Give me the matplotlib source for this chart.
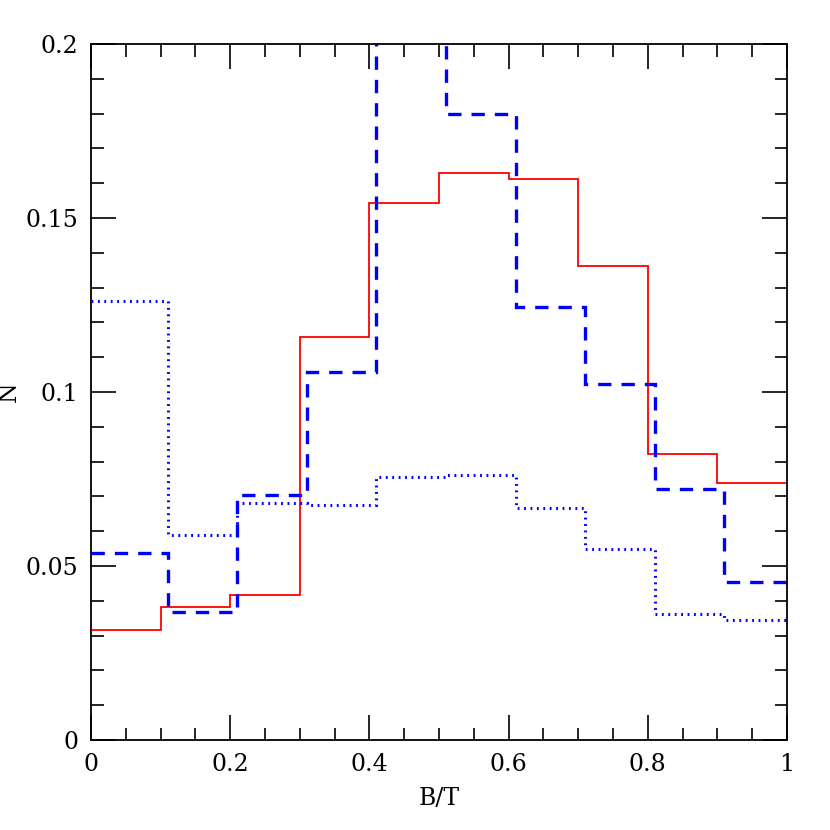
import numpy as np
import matplotlib
matplotlib.use('Agg')
import matplotlib.pyplot as plt
from matplotlib.ticker import MultipleLocator

# bin edges
red_edges = [0.0, 0.1, 0.2, 0.3, 0.4, 0.5, 0.6, 0.7, 0.8, 0.9, 1.0]
blue_edges = [0.0, 0.11, 0.21, 0.31, 0.41, 0.51, 0.61, 0.71, 0.81, 0.91, 1.0]

# histogram values
red_solid = [0.0316, 0.0382, 0.0417, 0.1158, 0.1543, 0.1628, 0.1612, 0.1362, 0.0822, 0.0739]
blue_dashed = [0.0537, 0.0368, 0.0704, 0.1057, 0.2300, 0.1799, 0.1244, 0.1023, 0.0721, 0.0454]
blue_dotted = [0.1262, 0.0588, 0.0681, 0.0674, 0.0756, 0.0762, 0.0668, 0.0549, 0.0362, 0.0344]

x_ticks = [0, 0.2, 0.4, 0.6, 0.8, 1.0]
x_labels = ['0', '0.2', '0.4', '0.6', '0.8', '1']
y_ticks = [0, 0.05, 0.1, 0.15, 0.2]
y_labels = ['0', '0.05', '0.1', '0.15', '0.2']

plt.rcParams['font.family'] = ['DejaVu Serif']

fig = plt.figure(figsize=(8.3, 8.3), dpi=100)
ax = fig.add_axes([0.1096, 0.1084, 0.8386, 0.8386])

ax.stairs(red_solid, red_edges, baseline=None, color='red', lw=1.3)
ax.stairs(blue_dashed, blue_edges, baseline=None, color='blue', lw=2.4, linestyle=(0, (4, 3)))
ax.stairs(blue_dotted, blue_edges, baseline=None, color='blue', lw=2.2, linestyle=(0, (0.6, 1.5)))

ax.set_xlim(0, 1)
ax.set_ylim(0, 0.2)
ax.set_xticks(x_ticks)
ax.set_xticklabels(x_labels)
ax.set_yticks(y_ticks)
ax.set_yticklabels(y_labels)
ax.xaxis.set_minor_locator(MultipleLocator(0.05))
ax.yaxis.set_minor_locator(MultipleLocator(0.01))
ax.tick_params(which='both', direction='in', top=True, right=True, labelsize=17, width=1.2)
ax.tick_params(which='major', length=18, pad=9)
ax.tick_params(which='minor', length=9)
for s in ax.spines.values():
    s.set_linewidth(1.3)

ax.set_xlabel('B/T', fontsize=17)
ax.set_ylabel('N', fontsize=17)
ax.xaxis.set_label_coords(0.5, -0.068)
ax.yaxis.set_label_coords(-0.1, 0.5)

fig.savefig('out.png', dpi=100)
